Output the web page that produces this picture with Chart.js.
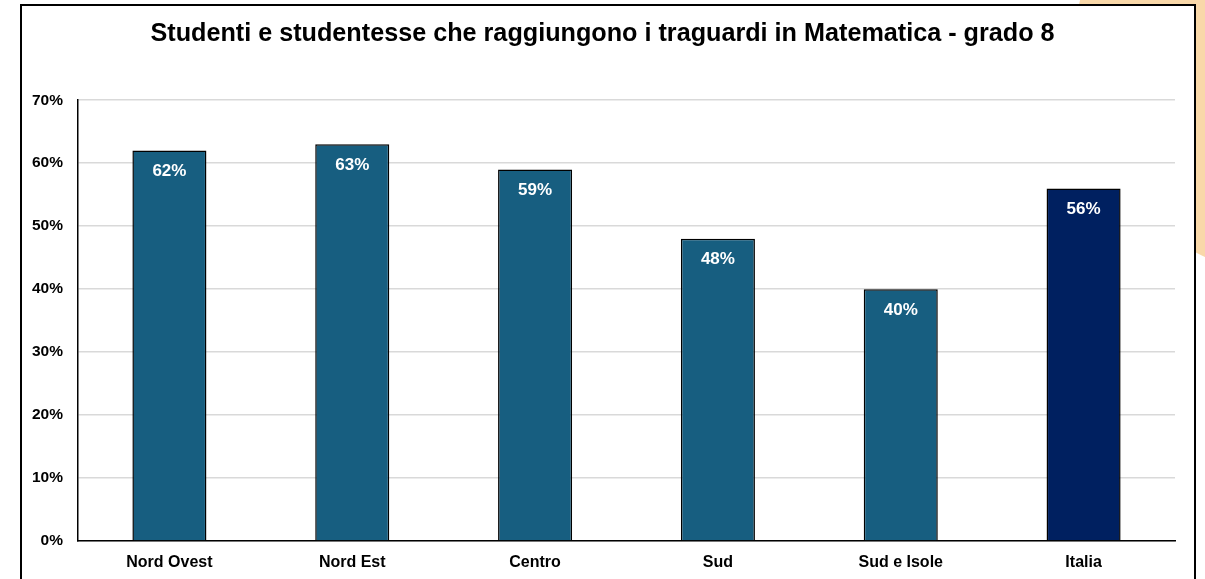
<!DOCTYPE html>
<html>
<head>
<meta charset="utf-8">
<script src="https://cdn.jsdelivr.net/npm/chart.js@4"></script>
<style>
    html, body { margin: 0; padding: 0; background: #fff; overflow: hidden; }
    .blob {
        position: absolute; left: 1074px; top: -174px;
        width: 452px; height: 452px; border-radius: 50%;
        background: #f9d8a9;
    }
    .frame {
        position: absolute; left: 20px; top: 4px;
        width: 1176px; height: 620px; box-sizing: border-box;
        border: 2px solid #000; background: #fff;
    }
    #wrap { position: absolute; left: 0; top: 0; width: 1205px; height: 579px; }
</style>
</head>
<body>
<div class="blob"></div>
<div class="frame"></div>
<div id="wrap"><canvas id="barChart" width="1205" height="579"></canvas></div>
<script>
const regions = ["Nord Ovest", "Nord Est", "Centro", "Sud", "Sud e Isole", "Italia"];
const percentages = [62, 63, 59, 48, 40, 56];
const barColors = ["#175e80", "#175e80", "#175e80", "#175e80", "#175e80", "#002060"];
const yTicks = [0, 10, 20, 30, 40, 50, 60, 70];

const fontFamily = "'Liberation Sans', Arial, sans-serif";

// white percentage labels inside the top of every bar
const valueLabels = {
    id: "valueLabels",
    afterLayout(chart) {
        // centre the title on the frame, not on the canvas
        chart.titleBlock.left = 30;
    },
    afterDatasetsDraw(chart) {
        const ctx = chart.ctx;
        const meta = chart.getDatasetMeta(0);
        ctx.save();
        ctx.fillStyle = "#fff";
        ctx.font = "bold 17px " + fontFamily;
        ctx.textAlign = "center";
        ctx.textBaseline = "middle";
        meta.data.forEach((bar, i) => {
            ctx.fillText(percentages[i] + "%", bar.x, bar.y + 21);
        });
        ctx.restore();
    }
};

new Chart(document.getElementById("barChart"), {
    type: "bar",
    data: {
        labels: regions,
        datasets: [{
            data: percentages,
            backgroundColor: barColors,
            borderColor: "#000",
            borderWidth: 1.5,
            categoryPercentage: 1,
            barPercentage: 0.405
        }]
    },
    plugins: [valueLabels],
    options: {
        responsive: false,
        animation: false,
        devicePixelRatio: 1,
        layout: { padding: { left: 0, right: 30, top: 0, bottom: 8 } },
        plugins: {
            legend: { display: false },
            tooltip: { enabled: false },
            title: {
                display: true,
                text: "Studenti e studentesse che raggiungono i traguardi in Matematica - grado 8",
                color: "#000",
                font: { family: fontFamily, size: 25.2, weight: "bold" },
                padding: { top: 19, bottom: 51 }
            }
        },
        scales: {
            x: {
                afterFit: (scale) => { scale.height = 30; },
                grid: { display: false, drawTicks: false },
                border: { color: "#000", width: 1.5 },
                ticks: {
                    color: "#000",
                    padding: 12,
                    maxRotation: 0,
                    font: { family: fontFamily, size: 16, weight: "bold" }
                }
            },
            y: {
                min: 0,
                max: 70,
                afterFit: (scale) => { scale.width = 78; },
                afterBuildTicks: (scale) => {
                    scale.ticks = yTicks.map((v) => ({ value: v }));
                },
                grid: { color: "#d9d9d9", lineWidth: 1.5, drawTicks: false },
                border: { color: "#000", width: 1.5 },
                ticks: {
                    color: "#000",
                    padding: 15,
                    font: { family: fontFamily, size: 15.5, weight: "bold" },
                    callback: (v) => v + "%"
                }
            }
        }
    }
});
</script>
</body>
</html>
